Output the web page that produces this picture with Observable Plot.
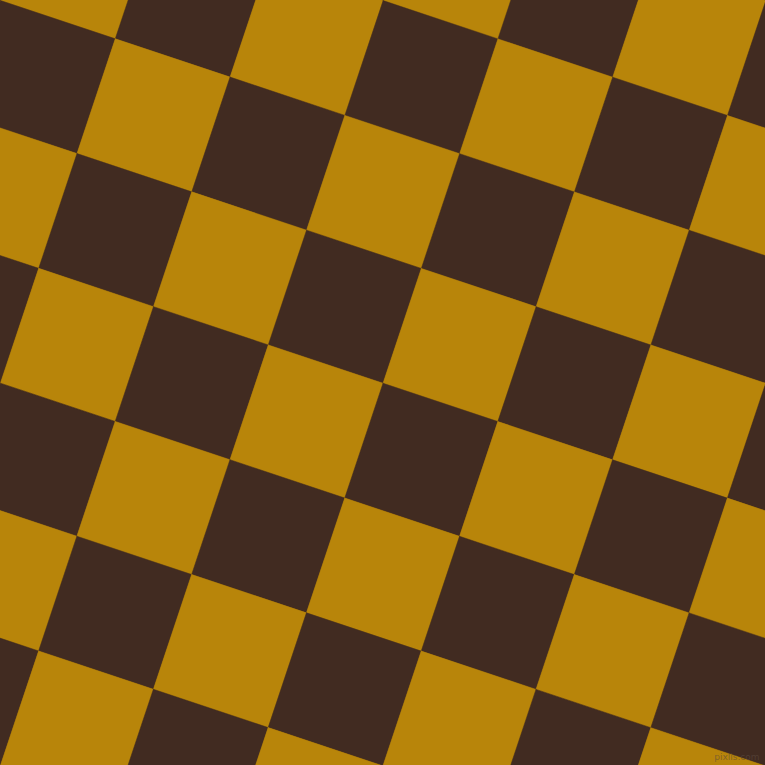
<!DOCTYPE html>
<html>
<head>
<meta charset="utf-8">
<script src="https://cdn.jsdelivr.net/npm/d3@7"></script>
<script src="https://cdn.jsdelivr.net/npm/@observablehq/plot@0.6"></script>
<style>
html,body{margin:0;padding:0;background:#b8850a;}
svg{display:block;}
</style>
</head>
<body>
<div id="chart"></div>
<script>
// Lattice parameters
const tileSide = 121;          // px side of each square
const tileAngleDeg = 18.45;    // rotation of the checkerboard
const origin = [0, 0];         // a lattice corner
const tileColors = ["#412b21", "#b8850a"]; // even parity, odd parity
const rowIndices = d3.range(-4, 10);
const colIndices = d3.range(-4, 10);
const watermark = ["pixlis.com"];

const a = tileAngleDeg * Math.PI / 180;
const u = [tileSide * Math.cos(a), tileSide * Math.sin(a)];
const v = [-tileSide * Math.sin(a), tileSide * Math.cos(a)];
const pt = (i, j) => [origin[0] + i * u[0] + j * v[0], origin[1] + i * u[1] + j * v[1]];

const corners = [];
for (const i of colIndices) {
  for (const j of rowIndices) {
    const id = `${i}_${j}`;
    const color = tileColors[((i + j) % 2 + 2) % 2];
    for (const [di, dj] of [[0,0],[1,0],[1,1],[0,1],[0,0]]) {
      const [x, y] = pt(i + di, j + dj);
      corners.push({id, x, y, color});
    }
  }
}

const chart = Plot.plot({
  width: 765,
  height: 765,
  margin: 0,
  x: {domain: [0, 765], range: [0, 765], axis: null},
  y: {domain: [0, 765], range: [0, 765], axis: null},
  style: {background: "#b8850a", overflow: "hidden"},
  marks: [
    Plot.line(corners, {x: "x", y: "y", z: "id", fill: "color", stroke: "color", strokeWidth: 0.5, curve: "linear", clip: true}),
    Plot.text(watermark, {text: d => d, frameAnchor: "bottom-right", dx: -6, dy: -6, fill: "#5b4a3f", fontSize: 9, fontFamily: "DejaVu Sans", fillOpacity: 0.6})
  ]
});
document.getElementById("chart").appendChild(chart);
</script>
</body>
</html>
